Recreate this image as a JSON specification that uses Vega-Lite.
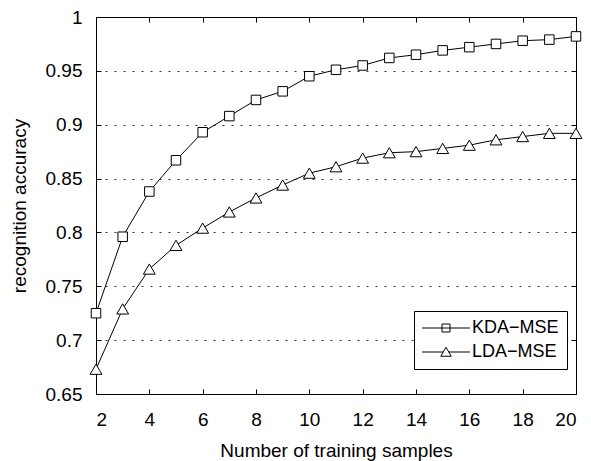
{
  "$schema": "https://vega.github.io/schema/vega-lite/v6.json",
  "width": 480,
  "height": 377,
  "autosize": {"type": "none"},
  "padding": {"left": 96, "top": 17, "right": 15, "bottom": 67},
  "background": "white",
  "config": {
    "font": "Liberation Sans",
    "view": {"stroke": null},
    "axis": {
      "labelFontSize": 19,
      "labelColor": "black",
      "labelFont": "Liberation Sans",
      "titleFontSize": 19,
      "titleColor": "black",
      "titleFont": "Liberation Sans",
      "titleFontWeight": "normal",
      "domainColor": "black",
      "domainWidth": 1,
      "tickColor": "black",
      "tickWidth": 1
    }
  },
  "data": {
    "values": [
      {"n": 2, "series": "KDA−MSE", "acc": 0.725},
      {"n": 3, "series": "KDA−MSE", "acc": 0.796},
      {"n": 4, "series": "KDA−MSE", "acc": 0.838},
      {"n": 5, "series": "KDA−MSE", "acc": 0.867},
      {"n": 6, "series": "KDA−MSE", "acc": 0.893},
      {"n": 7, "series": "KDA−MSE", "acc": 0.908},
      {"n": 8, "series": "KDA−MSE", "acc": 0.923},
      {"n": 9, "series": "KDA−MSE", "acc": 0.931},
      {"n": 10, "series": "KDA−MSE", "acc": 0.945},
      {"n": 11, "series": "KDA−MSE", "acc": 0.951},
      {"n": 12, "series": "KDA−MSE", "acc": 0.955},
      {"n": 13, "series": "KDA−MSE", "acc": 0.962},
      {"n": 14, "series": "KDA−MSE", "acc": 0.965},
      {"n": 15, "series": "KDA−MSE", "acc": 0.969},
      {"n": 16, "series": "KDA−MSE", "acc": 0.972},
      {"n": 17, "series": "KDA−MSE", "acc": 0.975},
      {"n": 18, "series": "KDA−MSE", "acc": 0.978},
      {"n": 19, "series": "KDA−MSE", "acc": 0.979},
      {"n": 20, "series": "KDA−MSE", "acc": 0.982},
      {"n": 2, "series": "LDA−MSE", "acc": 0.673},
      {"n": 3, "series": "LDA−MSE", "acc": 0.729},
      {"n": 4, "series": "LDA−MSE", "acc": 0.766},
      {"n": 5, "series": "LDA−MSE", "acc": 0.788},
      {"n": 6, "series": "LDA−MSE", "acc": 0.804},
      {"n": 7, "series": "LDA−MSE", "acc": 0.819},
      {"n": 8, "series": "LDA−MSE", "acc": 0.832},
      {"n": 9, "series": "LDA−MSE", "acc": 0.844},
      {"n": 10, "series": "LDA−MSE", "acc": 0.855},
      {"n": 11, "series": "LDA−MSE", "acc": 0.861},
      {"n": 12, "series": "LDA−MSE", "acc": 0.869},
      {"n": 13, "series": "LDA−MSE", "acc": 0.874},
      {"n": 14, "series": "LDA−MSE", "acc": 0.875},
      {"n": 15, "series": "LDA−MSE", "acc": 0.878},
      {"n": 16, "series": "LDA−MSE", "acc": 0.881},
      {"n": 17, "series": "LDA−MSE", "acc": 0.886},
      {"n": 18, "series": "LDA−MSE", "acc": 0.889},
      {"n": 19, "series": "LDA−MSE", "acc": 0.892},
      {"n": 20, "series": "LDA−MSE", "acc": 0.892}
    ]
  },
  "layer": [
    {
      "mark": {"type": "line", "color": "black", "strokeWidth": 1},
      "encoding": {
        "x": {
          "field": "n", "type": "quantitative",
          "scale": {"domain": [2, 20], "nice": false, "zero": false},
          "axis": {
            "orient": "bottom",
            "values": [2, 4, 6, 8, 10, 12, 14, 16, 18, 20],
            "title": "Number of training samples",
            "grid": false,
            "tickSize": -5,
            "labelPadding": 21,
            "titlePadding": 12
          }
        },
        "y": {
          "field": "acc", "type": "quantitative",
          "scale": {"domain": [0.65, 1], "nice": false, "zero": false},
          "axis": {
            "orient": "left",
            "values": [0.65, 0.7, 0.75, 0.8, 0.85, 0.9, 0.95, 1],
            "format": "~g",
            "title": "recognition accuracy",
            "grid": true,
            "gridDash": [2, 7],
            "gridColor": "#333333",
            "gridWidth": 1,
            "tickSize": -5,
            "labelPadding": 19,
            "titlePadding": 16
          }
        },
        "detail": {"field": "series"}
      }
    },
    {
      "mark": {"type": "point", "filled": true, "fill": "white", "stroke": "black", "strokeWidth": 1, "opacity": 1},
      "encoding": {
        "x": {"field": "n", "type": "quantitative", "axis": null},
        "y": {"field": "acc", "type": "quantitative", "axis": null},
        "shape": {
          "field": "series", "type": "nominal",
          "scale": {"domain": ["KDA−MSE", "LDA−MSE"], "range": ["square", "triangle-up"]},
          "legend": null
        },
        "size": {
          "field": "series", "type": "nominal",
          "scale": {"domain": ["KDA−MSE", "LDA−MSE"], "range": [90, 140]},
          "legend": null
        }
      }
    },
    {
      "mark": {"type": "point", "filled": false, "stroke": "black", "opacity": 0},
      "encoding": {
        "x": {
          "field": "n", "type": "quantitative",
          "axis": {"orient": "top", "labels": false, "title": null, "grid": false, "tickSize": -5, "values": [2, 4, 6, 8, 10, 12, 14, 16, 18, 20]}
        },
        "y": {
          "field": "acc", "type": "quantitative",
          "axis": {"orient": "right", "labels": false, "title": null, "grid": false, "tickSize": -5, "values": [0.65, 0.7, 0.75, 0.8, 0.85, 0.9, 0.95, 1]}
        },
        "shape": {
          "field": "series", "type": "nominal",
          "scale": {
            "domain": ["KDA−MSE", "LDA−MSE"],
            "range": [
              "M-4.8,0H4.8M-0.8,-0.8H0.8V0.8H-0.8Z",
              "M-4.8,0H-0.55M0.55,0H4.8M0,-0.95L1.05,0.85H-1.05Z"
            ]
          },
          "legend": {
            "title": null,
            "orient": "none",
            "legendX": 318,
            "legendY": 294,
            "symbolSize": 100,
            "symbolOffset": 15,
            "labelOffset": 17,
            "labelFontSize": 18,
            "labelFont": "Liberation Sans",
            "labelColor": "black",
            "labelLimit": 0,
            "strokeColor": "black",
            "fillColor": "white",
            "padding": 8,
            "rowPadding": 6,
            "symbolStrokeColor": "black",
            "symbolFillColor": "white",
            "symbolOpacity": 1,
            "symbolStrokeWidth": 1,
            "cornerRadius": 0
          }
        }
      }
    }
  ],
  "resolve": {
    "scale": {"shape": "independent"},
    "legend": {"shape": "independent"},
    "axis": {"x": "independent", "y": "independent"}
  }
}
